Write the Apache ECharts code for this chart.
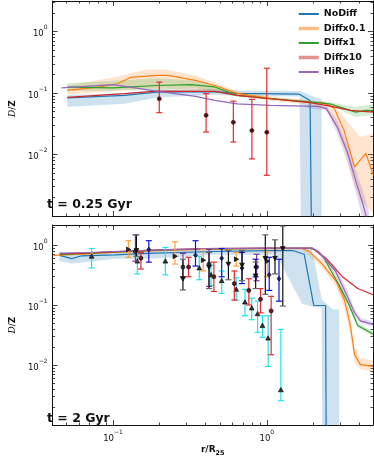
<!DOCTYPE html>
<html>
<head>
<meta charset="utf-8">
<script src="https://cdn.jsdelivr.net/npm/echarts@6.0.0/dist/echarts.min.js"></script>
<style>
html, body { margin: 0; padding: 0; background: #fff; }
#chart { width: 374px; height: 458px; }
</style>
</head>
<body>
<div id="chart"></div>
<script>
// axis ranges and ticks
var xRange = [0.0405, 4.9];
var yRangeTop = [0.001, 3.16];
var yRangeBot = [0.001, 2.19];
var xMajor = [0.1, 1];
var xMinor = [0.05, 0.06, 0.07, 0.08, 0.09, 0.2, 0.3, 0.4, 0.5, 0.6, 0.7, 0.8, 0.9, 2, 3, 4];
var yMajor = [0.001, 0.01, 0.1, 1];
var yLabels = [0.01, 0.1, 1];
var yMinor = [0.002, 0.003, 0.004, 0.005, 0.006, 0.007, 0.008, 0.009,
              0.02, 0.03, 0.04, 0.05, 0.06, 0.07, 0.08, 0.09,
              0.2, 0.3, 0.4, 0.5, 0.6, 0.7, 0.8, 0.9, 2, 3];

// ---- t = 0.25 Gyr ----
var topNoDiffR = [0.0505, 0.119, 0.192, 0.459, 0.642, 1.63, 1.91, 1.965];
var topNoDiffV = [0.084, 0.092, 0.104, 0.106, 0.099, 0.096, 0.076, 0.0001];
var topNoDiffBandR  = [0.0505, 0.119, 0.192, 0.459, 0.642, 1.63, 1.68, 2.27];
var topNoDiffBandLo = [0.06, 0.067, 0.085, 0.094, 0.09, 0.088, 0.0001, 0.0001];
var topNoDiffBandHi = [0.093, 0.1, 0.115, 0.118, 0.11, 0.108, 0.105, 0.078];

var topD01R = [0.0505, 0.0804, 0.107, 0.13, 0.192, 0.228, 0.344, 0.459, 0.642, 1.05, 1.70, 2.37, 2.74, 3.17, 3.72, 4.4, 4.91];
var topD01V = [0.111, 0.125, 0.142, 0.18, 0.194, 0.194, 0.161, 0.133, 0.099, 0.082, 0.072, 0.069, 0.057, 0.025, 0.0063, 0.0105, 0.0047];
var topD01BandR  = [0.0505, 0.1, 0.166, 0.222, 0.344, 0.459, 0.642, 1.05, 1.70, 2.37, 2.74, 3.17, 3.72, 4.06, 4.91];
var topD01BandLo = [0.095, 0.107, 0.119, 0.119, 0.111, 0.103, 0.0885, 0.076, 0.067, 0.056, 0.036, 0.0132, 0.0032, 0.0018, 0.0011];
var topD01BandHi = [0.133, 0.179, 0.242, 0.242, 0.194, 0.149, 0.107, 0.0885, 0.078, 0.073, 0.063, 0.0406, 0.0249, 0.0193, 0.022];

var topD1R = [0.0505, 0.1, 0.192, 0.32, 0.459, 0.642, 1.05, 1.965, 2.63, 3.17, 3.78, 4.4, 4.91];
var topD1V = [0.125, 0.122, 0.133, 0.138, 0.126, 0.092, 0.081, 0.0715, 0.066, 0.0565, 0.049, 0.0525, 0.0525];
var topD1BandR  = [0.0505, 0.192, 0.344, 0.642, 1.965, 2.63, 3.17, 3.78, 4.91];
var topD1BandLo = [0.108, 0.112, 0.12, 0.088, 0.069, 0.061, 0.05, 0.041, 0.044];
var topD1BandHi = [0.145, 0.175, 0.16, 0.097, 0.075, 0.071, 0.064, 0.06, 0.066];

var topD10R = [0.0505, 0.119, 0.192, 0.459, 0.642, 1.05, 1.83, 2.63, 3.5, 4.91];
var topD10V = [0.085, 0.098, 0.108, 0.107, 0.092, 0.081, 0.0715, 0.061, 0.0525, 0.049];

var topHiResR = [0.0463, 0.1, 0.192, 0.344, 0.459, 0.642, 1.05, 2.16, 2.44, 2.87, 3.34, 3.78, 4.2, 4.6];
var topHiResV = [0.122, 0.138, 0.108, 0.0885, 0.076, 0.067, 0.063, 0.0608, 0.056, 0.028, 0.0109, 0.0038, 0.0016, 0.0007];
var topHiResBandR  = [1.8, 2.44, 2.87, 3.34, 3.78, 4.2, 4.6];
var topHiResBandLo = [0.058, 0.052, 0.022, 0.0075, 0.0025, 0.0009, 0.0004];
var topHiResBandHi = [0.064, 0.061, 0.036, 0.015, 0.0058, 0.0026, 0.0012];

var topObsR  = [0.2, 0.403, 0.606, 0.80, 1.0];
var topObsV  = [0.081, 0.0435, 0.0335, 0.0246, 0.0231];
var topObsLo = [0.048, 0.0233, 0.016, 0.0085, 0.0046];
var topObsHi = [0.151, 0.098, 0.074, 0.079, 0.254];

// ---- t = 2 Gyr ----
var botNoDiffR = [0.045, 0.054, 0.0627, 0.103, 0.166, 0.459, 1.05, 1.47, 1.75, 2.02, 2.41, 2.44];
var botNoDiffV = [0.68, 0.6, 0.67, 0.695, 0.735, 0.79, 0.82, 0.82, 0.71, 0.099, 0.099, 0.0001];
var botNoDiffBandR  = [0.045, 0.054, 0.063, 0.103, 0.166, 0.459, 1.15, 1.7, 1.97, 2.27, 2.3, 2.7, 2.95];
var botNoDiffBandLo = [0.55, 0.5, 0.52, 0.6, 0.6, 0.7, 0.7, 0.105, 0.095, 0.09, 0.0001, 0.0001, 0.0001];
var botNoDiffBandHi = [0.76, 0.7, 0.74, 0.78, 0.8, 0.85, 0.88, 0.88, 0.87, 0.13, 0.12, 0.085, 0.085];

var botD01R = [0.041, 0.07, 0.1, 0.2, 0.4, 1.0, 1.7, 1.88, 2.27, 2.83, 3.2, 3.47, 3.72, 4.06, 4.91];
var botD01V = [0.68, 0.72, 0.76, 0.82, 0.86, 0.88, 0.88, 0.8, 0.5, 0.25, 0.12, 0.05, 0.015, 0.0102, 0.0095];
var botD01BandR  = [1.7, 2.27, 2.83, 3.2, 3.47, 3.72, 4.06, 4.91];
var botD01BandLo = [0.84, 0.44, 0.2, 0.09, 0.035, 0.011, 0.0085, 0.0078];
var botD01BandHi = [0.9, 0.58, 0.3, 0.16, 0.07, 0.02, 0.013, 0.012];

var botD1R = [0.045, 0.07, 0.1, 0.2, 0.4, 1.0, 1.9, 2.05, 2.34, 2.94, 3.4, 3.9, 4.91];
var botD1V = [0.7, 0.74, 0.77, 0.83, 0.87, 0.89, 0.89, 0.85, 0.63, 0.22, 0.105, 0.046, 0.033];
var botD1BandR  = [2.94, 3.4, 3.9, 4.91];
var botD1BandLo = [0.2, 0.095, 0.042, 0.03];
var botD1BandHi = [0.24, 0.115, 0.051, 0.036];

var botD10R = [0.045, 0.07, 0.1, 0.2, 0.4, 1.0, 1.97, 2.44, 3.1, 3.9, 4.91];
var botD10V = [0.72, 0.75, 0.78, 0.84, 0.88, 0.9, 0.9, 0.6, 0.3, 0.19, 0.15];

var botHiResR = [0.045, 0.07, 0.1, 0.2, 0.4, 1.0, 1.97, 2.16, 2.8, 3.3, 3.72, 4.06, 4.91];
var botHiResV = [0.74, 0.76, 0.79, 0.84, 0.88, 0.9, 0.9, 0.79, 0.37, 0.15, 0.075, 0.055, 0.048];
var botHiResBandR  = [1.97, 2.16, 2.8, 3.3, 3.72, 4.06, 4.91];
var botHiResBandLo = [0.87, 0.72, 0.31, 0.12, 0.065, 0.05, 0.044];
var botHiResBandHi = [0.93, 0.86, 0.44, 0.19, 0.087, 0.062, 0.053];

// observed galaxies, t = 2 Gyr
var cyanR  = [0.0727, 0.144, 0.219, 0.364, 0.434, 0.509, 0.633, 0.721, 0.798, 0.871, 0.937, 1.02, 1.234];
var cyanV  = [0.657, 0.545, 0.545, 0.419, 0.322, 0.257, 0.184, 0.113, 0.09, 0.072, 0.0459, 0.0282, 0.00386];
var cyanLo = [0.419, 0.334, 0.322, 0.267, 0.213, 0.158, 0.122, 0.0667, 0.0574, 0.0353, 0.0292, 0.0095, 0.00255];
var cyanHi = [0.887, 0.763, 0.921, 0.657, 0.469, 0.374, 0.288, 0.184, 0.131, 0.117, 0.0667, 0.0667, 0.0395];

var redR  = [0.152, 0.31, 0.453, 0.615, 0.764, 0.91, 1.067];
var redV  = [0.61, 0.435, 0.299, 0.23, 0.177, 0.126, 0.0805];
var redLo = [0.403, 0.299, 0.17, 0.122, 0.101, 0.0747, 0.0149];
var redHi = [0.763, 0.632, 0.525, 0.374, 0.277, 0.19, 0.141];

var blueR  = [0.171, 0.344, 0.509, 0.69, 0.846, 1.037, 1.2];
var blueV  = [0.855, 0.682, 0.61, 0.419, 0.435, 0.322, 0.277];
var blueLo = [0.525, 0.452, 0.299, 0.23, 0.299, 0.177, 0.117];
var blueHi = [1.197, 1.197, 0.887, 0.763, 0.587, 0.632, 0.587];

var blackR  = [0.142, 0.285, 0.421, 0.563, 0.69, 0.846, 0.978, 1.13, 1.27];
var blackV  = [0.823, 0.277, 0.435, 0.487, 0.469, 0.31, 0.61, 0.61, 0.887];
var blackLo = [0.657, 0.18, 0.19, 0.267, 0.257, 0.19, 0.152, 0.334, 0.097];
var blackHi = [1.5, 0.587, 0.763, 0.823, 0.823, 0.525, 1.5, 1.24, 2.1];

var orangeR  = [0.126, 0.253, 0.386, 0.633, 1.007];
var orangeV  = [0.855, 0.657, 0.566, 0.587, 0.545];
var orangeLo = [0.632, 0.487, 0.374, 0.452, 0.299];
var orangeHi = [1.197, 1.15, 0.855, 0.763, 0.792];

var purpleR  = [0.14, 0.285, 0.421, 0.858];
var purpleV  = [0.792, 0.435, 0.487, 0.435];
var purpleLo = [0.545, 0.299, 0.206, 0.257];
var purpleHi = [1.5, 0.735, 0.855, 0.71];

var C = { blue: '#1f77b4', orange: '#ff7f0e', green: '#2ca02c', red: '#d62728', purple: '#9467bd' };

var myChart = echarts.init(document.getElementById('chart'));

function expLabel(v) {
    var e = Math.round(Math.log10(v));
    return '{b|10}{s|' + (e < 0 ? '\u2212' + (-e) : e) + '}';
}
var labelRich = {
    b: { fontFamily: 'DejaVu Sans', fontSize: 8.5, color: '#111', lineHeight: 14, verticalAlign: 'bottom' },
    s: { fontFamily: 'DejaVu Sans', fontSize: 6, color: '#111', verticalAlign: 'top' }
};

function xAx(grid, pos, ticks, len, labels, line) {
    var a = {
        type: 'log', gridIndex: grid, position: pos, min: xRange[0], max: xRange[1],
        axisLine: { show: line, onZero: false, lineStyle: { color: '#111', width: 1 } },
        axisTick: { show: true, inside: true, length: len, customValues: ticks, lineStyle: { color: '#111', width: 0.8 } },
        axisLabel: { show: false },
        splitLine: { show: false }
    };
    if (labels) {
        a.axisLabel = { show: true, customValues: labels, margin: 4, formatter: expLabel, rich: labelRich };
        a.name = '{t|r/R}{u|25}';
        a.nameLocation = 'middle';
        a.nameGap = 20;
        a.nameTextStyle = { rich: {
            t: { fontFamily: 'DejaVu Sans', fontWeight: 'bold', fontSize: 9, color: '#111', lineHeight: 12, verticalAlign: 'top' },
            u: { fontFamily: 'DejaVu Sans', fontWeight: 'bold', fontSize: 6.5, color: '#111', verticalAlign: 'bottom' }
        } };
    }
    return a;
}
function yAx(grid, pos, range, ticks, len, labels, line) {
    var a = {
        type: 'log', gridIndex: grid, position: pos, min: range[0], max: range[1],
        axisLine: { show: line, onZero: false, lineStyle: { color: '#111', width: 1 } },
        axisTick: { show: true, inside: true, length: len, customValues: ticks, lineStyle: { color: '#111', width: 0.8 } },
        axisLabel: { show: false },
        splitLine: { show: false }
    };
    if (labels) {
        a.axisLabel = { show: true, customValues: labels, margin: 5, formatter: expLabel, rich: labelRich };
        a.name = '{d|D}{t|/}{z|Z}';
        a.nameLocation = 'middle';
        a.nameGap = 29;
        a.nameTextStyle = { rich: {
            d: { fontFamily: 'DejaVu Serif', fontStyle: 'italic', fontSize: 9, color: '#111' },
            t: { fontFamily: 'DejaVu Sans', fontSize: 9, color: '#111' },
            z: { fontFamily: 'DejaVu Sans', fontWeight: 'bold', fontSize: 9, color: '#111' }
        } };
    }
    return a;
}

var xAxes = [], yAxes = [];
[0, 1].forEach(function (g) {
    xAxes.push(xAx(g, 'bottom', xMajor, 5, g === 1 ? xMajor : null, true));
    xAxes.push(xAx(g, 'bottom', xMinor, 2.5, null, false));
    xAxes.push(xAx(g, 'top', xMajor, 5, null, true));
    xAxes.push(xAx(g, 'top', xMinor, 2.5, null, false));
    var yr = g === 0 ? yRangeTop : yRangeBot;
    yAxes.push(yAx(g, 'left', yr, yMajor, 5, yLabels, true));
    yAxes.push(yAx(g, 'left', yr, yMinor, 2.5, null, false));
    yAxes.push(yAx(g, 'right', yr, yMajor, 5, null, true));
    yAxes.push(yAx(g, 'right', yr, yMinor, 2.5, null, false));
});

function band(g, xs, lo, hi, color, op) {
    return {
        type: 'custom', xAxisIndex: g * 4, yAxisIndex: g * 4, clip: true, silent: true, z: 1,
        data: [[xs[0], hi[0]]],
        renderItem: function (params, api) {
            var pts = [];
            for (var i = 0; i < xs.length; i++) pts.push(api.coord([xs[i], hi[i]]));
            for (var j = xs.length - 1; j >= 0; j--) pts.push(api.coord([xs[j], lo[j]]));
            return { type: 'polygon', shape: { points: pts }, style: { fill: color, opacity: op } };
        }
    };
}
function line(g, name, xs, ys, color) {
    return {
        type: 'line', name: name, xAxisIndex: g * 4, yAxisIndex: g * 4, symbol: 'none', clip: true,
        silent: true, z: 3, lineStyle: { color: color, width: 1.2 }, itemStyle: { color: color },
        data: xs.map(function (x, i) { return [x, ys[i]]; })
    };
}
function marker(kind, p, fill, stroke) {
    var x = p[0], y = p[1], s = 2.4;
    var st = { fill: fill, stroke: stroke, lineWidth: 0.7 };
    if (kind === 'circle') return { type: 'circle', shape: { cx: x, cy: y, r: 2 }, style: st };
    var pts;
    if (kind === 'up') pts = [[x, y - s], [x - s, y + s * 0.8], [x + s, y + s * 0.8]];
    else if (kind === 'down') pts = [[x, y + s], [x - s, y - s * 0.8], [x + s, y - s * 0.8]];
    else if (kind === 'right') pts = [[x + s, y], [x - s * 0.8, y - s], [x - s * 0.8, y + s]];
    else pts = [[x, y - s], [x + s * 0.8, y], [x, y + s], [x - s * 0.8, y]];
    return { type: 'polygon', shape: { points: pts }, style: st };
}
function errbars(g, xs, v, lo, hi, color, capColor, kind, fill, stroke) {
    return {
        type: 'custom', xAxisIndex: g * 4, yAxisIndex: g * 4, clip: true, silent: true, z: 5,
        data: xs.map(function (x, i) { return [x, v[i], lo[i], hi[i]]; }),
        renderItem: function (params, api) {
            var x = api.value(0);
            var p = api.coord([x, api.value(1)]);
            var a = api.coord([x, api.value(2)]);
            var b = api.coord([x, api.value(3)]);
            var lw = { stroke: color, lineWidth: 1.2 };
            var cw = { stroke: capColor, lineWidth: 1.2 };
            return { type: 'group', children: [
                { type: 'line', shape: { x1: a[0], y1: a[1], x2: b[0], y2: b[1] }, style: lw },
                { type: 'line', shape: { x1: a[0] - 3, y1: a[1], x2: a[0] + 3, y2: a[1] }, style: cw },
                { type: 'line', shape: { x1: b[0] - 3, y1: b[1], x2: b[0] + 3, y2: b[1] }, style: cw },
                marker(kind, p, fill, stroke)
            ] };
        }
    };
}

var series = [
    band(0, topNoDiffBandR, topNoDiffBandLo, topNoDiffBandHi, C.blue, 0.22),
    band(0, topD01BandR, topD01BandLo, topD01BandHi, C.orange, 0.2),
    band(0, topD1BandR, topD1BandLo, topD1BandHi, C.green, 0.2),
    band(0, topHiResBandR, topHiResBandLo, topHiResBandHi, C.purple, 0.25),
    line(0, 'NoDiff', topNoDiffR, topNoDiffV, C.blue),
    line(0, 'Diffx0.1', topD01R, topD01V, C.orange),
    line(0, 'Diffx1', topD1R, topD1V, C.green),
    line(0, 'Diffx10', topD10R, topD10V, C.red),
    line(0, 'HiRes', topHiResR, topHiResV, C.purple),
    errbars(0, topObsR, topObsV, topObsLo, topObsHi, '#e8292b', '#e8292b', 'circle', '#222', '#8b0000'),

    band(1, botNoDiffBandR, botNoDiffBandLo, botNoDiffBandHi, C.blue, 0.22),
    band(1, botD01BandR, botD01BandLo, botD01BandHi, C.orange, 0.2),
    band(1, botD1BandR, botD1BandLo, botD1BandHi, C.green, 0.2),
    band(1, botHiResBandR, botHiResBandLo, botHiResBandHi, C.purple, 0.25),
    line(1, 'NoDiff', botNoDiffR, botNoDiffV, C.blue),
    line(1, 'Diffx0.1', botD01R, botD01V, C.orange),
    line(1, 'Diffx1', botD1R, botD1V, C.green),
    line(1, 'Diffx10', botD10R, botD10V, C.red),
    line(1, 'HiRes', botHiResR, botHiResV, C.purple),
    errbars(1, cyanR, cyanV, cyanLo, cyanHi, '#22e3ec', '#22e3ec', 'up', '#333', '#111'),
    errbars(1, orangeR, orangeV, orangeLo, orangeHi, '#ffa33a', '#ffa33a', 'right', '#222', '#111'),
    errbars(1, purpleR, purpleV, purpleLo, purpleHi, '#7d3a93', '#7d3a93', 'circle', '#444', '#111'),
    errbars(1, redR, redV, redLo, redHi, '#e8292b', '#e8292b', 'circle', '#7a1515', '#111'),
    errbars(1, blueR, blueV, blueLo, blueHi, '#1010e0', '#1010e0', 'diamond', '#1a237e', '#111'),
    errbars(1, blackR, blackV, blackLo, blackHi, '#111', '#666', 'down', '#111', '#111')
];

var option = {
    animation: false,
    grid: [
        { left: 43, top: 1, width: 330, height: 215 },
        { left: 43, top: 225, width: 330, height: 204 }
    ],
    xAxis: xAxes,
    yAxis: yAxes,
    legend: {
        data: [
            { name: 'NoDiff' },
            { name: 'Diffx0.1', lineStyle: { width: 3.5, color: '#ffbd84' } },
            { name: 'Diffx1' },
            { name: 'Diffx10', lineStyle: { width: 3.5, color: '#e49192' } },
            { name: 'HiRes' }
        ],
        orient: 'vertical', left: 292, top: 4, itemWidth: 20, itemHeight: 10, itemGap: 4.5,
        selectedMode: false,
        itemStyle: { opacity: 0 },
        textStyle: { fontFamily: 'DejaVu Sans', fontWeight: 'bold', fontSize: 9.5, color: '#111' }
    },
    graphic: [
        { type: 'text', left: 47, top: 198, style: { text: 't = 0.25 Gyr', font: 'bold 12.5px "DejaVu Sans"', fill: '#111' } },
        { type: 'text', left: 47, top: 412, style: { text: 't = 2 Gyr', font: 'bold 12.5px "DejaVu Sans"', fill: '#111' } }
    ],
    series: series
};

myChart.setOption(option);
</script>
</body>
</html>
